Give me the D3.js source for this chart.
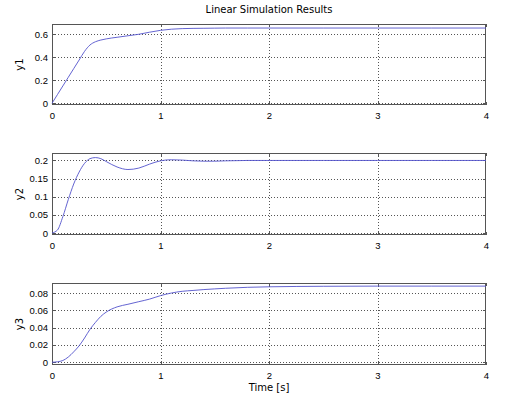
<!DOCTYPE html>
<html>
<head>
<meta charset="utf-8">
<script src="https://cdn.jsdelivr.net/npm/d3@7"></script>
<style>
  body { margin: 0; background: #fff; }
  svg { display: block; font-family: "DejaVu Sans", sans-serif; }
  .grid line { stroke: #555; stroke-dasharray: 1,2; shape-rendering: crispEdges; }
  .grid path { display: none; }
  .ax path, .ax line { stroke: #555; shape-rendering: crispEdges; }
  .ax text { font-size: 9.5px; fill: #000; }
</style>
</head>
<body>
<div id="chart"></div>
<script>
// time samples
var time = [0, 0.05, 0.1, 0.15, 0.2, 0.25, 0.3, 0.35, 0.4, 0.45, 0.5, 0.6, 0.7, 0.8, 0.9,
            1.0, 1.1, 1.2, 1.3, 1.4, 1.5, 1.6, 1.8, 2.0, 2.5, 3.0, 3.5, 4.0];

var y1 = [0, 0.075, 0.15, 0.225, 0.3, 0.375, 0.45, 0.505, 0.533, 0.548, 0.558, 0.572, 0.585, 0.598, 0.616,
          0.632, 0.642, 0.647, 0.649, 0.65, 0.651, 0.652, 0.652, 0.652, 0.652, 0.652, 0.652, 0.652];

var y2 = [0, 0.008, 0.045, 0.092, 0.135, 0.168, 0.192, 0.205, 0.208, 0.205, 0.197, 0.182, 0.175, 0.179, 0.19,
          0.199, 0.202, 0.201, 0.199, 0.198, 0.198, 0.199, 0.2, 0.2, 0.2, 0.2, 0.2, 0.2];

var y3 = [0, 0.0005, 0.002, 0.006, 0.012, 0.019, 0.028, 0.038, 0.046, 0.053, 0.058, 0.064, 0.067, 0.07, 0.073,
          0.077, 0.08, 0.082, 0.083, 0.084, 0.0848, 0.0855, 0.0866, 0.0872, 0.0878, 0.088, 0.088, 0.088];

var xTicks = [0, 1, 2, 3, 4];
var y1Ticks = [0, 0.2, 0.4, 0.6];
var y2Ticks = [0, 0.05, 0.1, 0.15, 0.2];
var y3Ticks = [0, 0.02, 0.04, 0.06, 0.08];

var width = 517, height = 399;
var left = 52, right = 486;

var panels = [
    { name: "y1", values: y1, ticks: y1Ticks, domain: [-0.015, 0.687], top: 24, bottom: 105 },
    { name: "y2", values: y2, ticks: y2Ticks, domain: [-0.0056, 0.2206], top: 153, bottom: 235 },
    { name: "y3", values: y3, ticks: y3Ticks, domain: [-0.0032, 0.0916], top: 283, bottom: 365 }
];

function translate(x, y){
    return "translate(" + x + "," + y + ")";
}

var svg = d3.select("#chart").append("svg")
    .attr("width", width)
    .attr("height", height);

var xScale = d3.scaleLinear().domain([0, 4]).range([left, right]);

panels.forEach(function(p){
    var yScale = d3.scaleLinear().domain(p.domain).range([p.bottom, p.top]);
    var h = p.bottom - p.top;

    // dotted grid
    svg.append("g")
        .attr("class", "grid")
        .attr("transform", translate(0, p.bottom))
        .call(d3.axisBottom(xScale).tickValues(xTicks.slice(1, -1)).tickSize(-h).tickFormat(""));
    svg.append("g")
        .attr("class", "grid")
        .attr("transform", translate(left, 0))
        .call(d3.axisLeft(yScale).tickValues(p.ticks).tickSize(-(right - left)).tickFormat(""));

    // box
    svg.append("rect")
        .attr("x", left + 0.5).attr("y", p.top + 0.5)
        .attr("width", right - left - 1).attr("height", h - 1)
        .attr("fill", "none").attr("stroke", "#555");

    // inward ticks + labels
    svg.append("g")
        .attr("class", "ax")
        .attr("transform", translate(0, p.bottom))
        .call(d3.axisBottom(xScale).tickValues(xTicks).tickSizeInner(-3).tickSizeOuter(0).tickPadding(7)
            .tickFormat(d3.format("d")))
        .call(function(g){ g.select(".domain").remove(); });
    svg.append("g")
        .attr("class", "ax")
        .attr("transform", translate(0, p.top))
        .call(d3.axisTop(xScale).tickValues(xTicks).tickSizeInner(-3).tickSizeOuter(0).tickFormat(""))
        .call(function(g){ g.select(".domain").remove(); });
    svg.append("g")
        .attr("class", "ax")
        .attr("transform", translate(left, 0))
        .call(d3.axisLeft(yScale).tickValues(p.ticks).tickSizeInner(-3).tickSizeOuter(0).tickPadding(4)
            .tickFormat(d3.format("~g")))
        .call(function(g){ g.select(".domain").remove(); });
    svg.append("g")
        .attr("class", "ax")
        .attr("transform", translate(right, 0))
        .call(d3.axisRight(yScale).tickValues(p.ticks).tickSizeInner(-3).tickSizeOuter(0).tickFormat(""))
        .call(function(g){ g.select(".domain").remove(); });

    // y label
    svg.append("text")
        .attr("transform", translate(19, (p.top + p.bottom) / 2) + " rotate(-90)")
        .attr("text-anchor", "middle")
        .attr("dy", "0.35em")
        .attr("font-size", 10)
        .text(p.name);

    var line = d3.line()
        .x(function(d, i){ return xScale(time[i]); })
        .y(function(d){ return yScale(d); })
        .curve(d3.curveMonotoneX);

    svg.append("path")
        .datum(p.values)
        .attr("fill", "none")
        .attr("stroke", "#5252cc")
        .attr("stroke-width", 0.9)
        .attr("d", line);
});

svg.append("text")
    .attr("x", (left + right) / 2)
    .attr("y", 13)
    .attr("text-anchor", "middle")
    .attr("font-size", 10)
    .text("Linear Simulation Results");

svg.append("text")
    .attr("x", (left + right) / 2)
    .attr("y", 391)
    .attr("text-anchor", "middle")
    .attr("font-size", 10)
    .text("Time [s]");
</script>
</body>
</html>
